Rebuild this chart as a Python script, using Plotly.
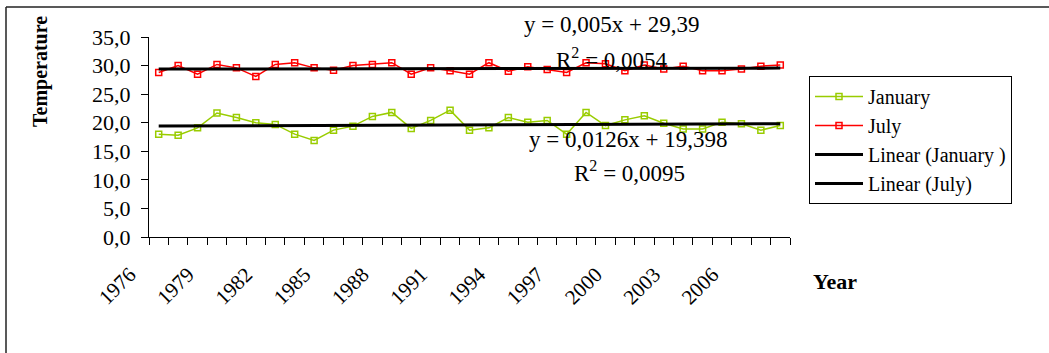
import plotly.graph_objects as go

# Mean monthly temperatures, 1976-2008
years = list(range(1976, 2009))
january = [18.0, 17.8, 19.1, 21.7, 20.9, 20.0, 19.7, 18.0, 16.9, 18.7,
           19.4, 21.1, 21.8, 19.0, 20.4, 22.2, 18.7, 19.1, 20.9, 20.1,
           20.4, 18.0, 21.8, 19.5, 20.5, 21.2, 19.9, 18.9, 18.9, 20.1,
           19.8, 18.7, 19.5]
july = [28.8, 30.0, 28.5, 30.2, 29.6, 28.1, 30.2, 30.5, 29.6, 29.2,
        30.0, 30.2, 30.5, 28.5, 29.6, 29.1, 28.5, 30.5, 29.0, 29.8,
        29.3, 28.8, 30.5, 30.3, 29.1, 30.1, 29.4, 29.9, 29.1, 29.1,
        29.4, 29.9, 30.1]

# Linear trend coefficients (x = 1, 2, ... over the series)
jan_slope, jan_intercept, jan_r2 = 0.0126, 19.398, 0.0095
jul_slope, jul_intercept, jul_r2 = 0.005, 29.39, 0.0054

label_years = list(range(1976, 2007, 3))
label_text = [str(y) for y in label_years]
y_ticks = [0, 5, 10, 15, 20, 25, 30, 35]


def dec(v):
    return str(v).replace(".", ",")


idx = list(range(1, len(years) + 1))
jan_trend = [jan_slope * i + jan_intercept for i in idx]
jul_trend = [jul_slope * i + jul_intercept for i in idx]

W, H = 1049, 353
L, R, T, B = 149, 259, 37, 116
PW, PH = W - L - R, H - T - B


def px(x):
    return (x - L) / PW


def py(y):
    return (H - B - y) / PH


SERIF = "Liberation Serif, Times New Roman, serif"

fig = go.Figure()
fig.add_trace(go.Scatter(
    x=years, y=january, name="January", mode="lines+markers",
    line=dict(color="#99CC00", width=1.5),
    marker=dict(symbol="square-open", size=6, color="#99CC00",
                line=dict(width=1.5, color="#99CC00"))))
fig.add_trace(go.Scatter(
    x=years, y=july, name="July", mode="lines+markers",
    line=dict(color="#FF0000", width=1.5),
    marker=dict(symbol="square-open", size=6, color="#FF0000",
                line=dict(width=1.5, color="#FF0000"))))
fig.add_trace(go.Scatter(
    x=years, y=jan_trend, name="Linear (January )", mode="lines",
    line=dict(color="black", width=3)))
fig.add_trace(go.Scatter(
    x=years, y=jul_trend, name="Linear (July)", mode="lines",
    line=dict(color="black", width=3)))

annotations = [
    dict(x=px(611), y=py(25), text=f"y = {dec(jul_slope)}x + {dec(jul_intercept)}"),
    dict(x=px(612), y=py(58), text=f"R<sup>2</sup> = {dec(jul_r2)}"),
    dict(x=px(628), y=py(139), text=f"y = {dec(jan_slope)}x + {dec(jan_intercept)}"),
    dict(x=px(629), y=py(171), text=f"R<sup>2</sup> = {dec(jan_r2)}"),
]
for a in annotations:
    a.update(xref="paper", yref="paper", showarrow=False,
             font=dict(family=SERIF, size=23, color="black"),
             xanchor="center", yanchor="middle")

annotations.append(dict(
    x=px(40), y=py(72), xref="paper", yref="paper", showarrow=False,
    text="<b>Temperature</b>", textangle=-90,
    font=dict(family=SERIF, size=20, color="black"),
    xanchor="center", yanchor="middle"))
annotations.append(dict(
    x=px(835), y=py(281), xref="paper", yref="paper", showarrow=False,
    text="<b>Year</b>",
    font=dict(family=SERIF, size=22, color="black"),
    xanchor="center", yanchor="middle"))

shapes = [
    dict(type="line", xref="paper", yref="paper",
         x0=px(6), x1=px(W + 5), y0=py(7), y1=py(7),
         line=dict(color="#222222", width=1.5)),
    dict(type="line", xref="paper", yref="paper",
         x0=px(6), x1=px(6), y0=py(7), y1=py(H + 5),
         line=dict(color="#222222", width=1.5)),
]

fig.update_layout(
    width=W, height=H,
    margin=dict(l=L, r=R, t=T, b=B, pad=0),
    paper_bgcolor="white", plot_bgcolor="white",
    separators=",.",
    font=dict(family=SERIF, color="black"),
    showlegend=True,
    legend=dict(
        x=px(809), y=py(76), xanchor="left", yanchor="top",
        bordercolor="black", borderwidth=1, bgcolor="white",
        font=dict(family=SERIF, size=20, color="black"),
        itemwidth=48, tracegroupgap=0),
    annotations=annotations,
    shapes=shapes,
    xaxis=dict(
        range=[1975.5, 2008.5], showgrid=False, zeroline=False,
        showline=True, linecolor="black", linewidth=1,
        tickmode="array", tickvals=label_years, ticktext=label_text,
        ticks="", tickangle=-45, ticklabelshift=-29,
        ticklabelstandoff=16,
        tickfont=dict(family=SERIF, size=21, color="black"),
        minor=dict(ticks="outside", ticklen=7, tickcolor="black",
                   tickwidth=1, tick0=1975.5, dtick=1, showgrid=False),
    ),
    yaxis=dict(
        range=[0, 35], showgrid=False, zeroline=False,
        showline=True, linecolor="black", linewidth=1,
        tickmode="array", tickvals=y_ticks, tickformat=".1f",
        ticks="outside", ticklen=7, tickcolor="black",
        ticklabelstandoff=6,
        tickfont=dict(family=SERIF, size=22, color="black"),
    ),
)

fig.write_html("out.html")
